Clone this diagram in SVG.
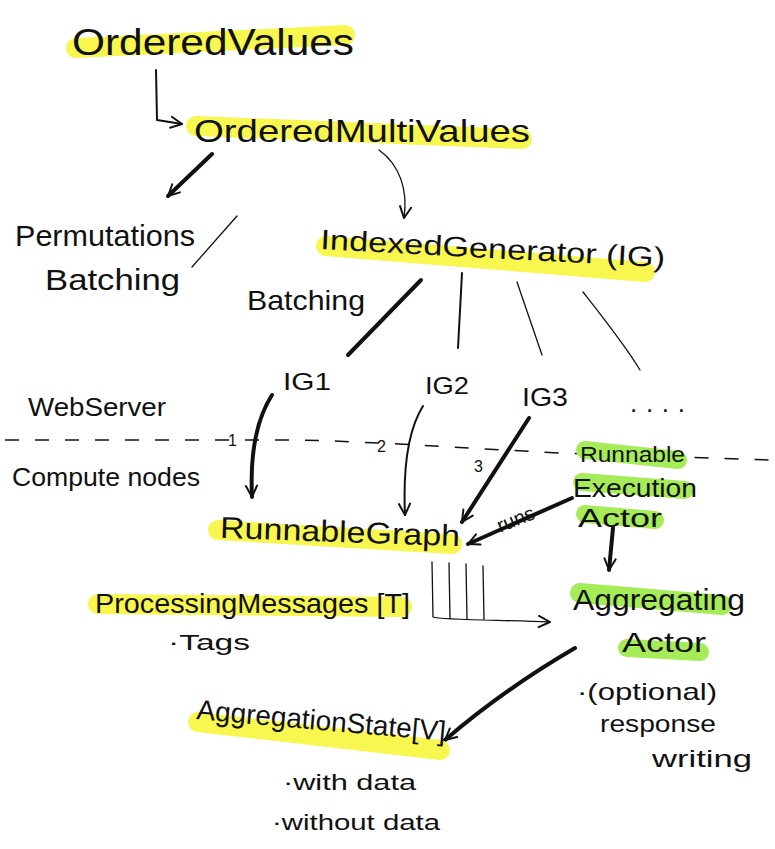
<svg xmlns="http://www.w3.org/2000/svg" width="775" height="849" viewBox="0 0 775 849">
<style>
text{font-family:"Liberation Sans","DejaVu Sans",sans-serif;fill:#111;}
.hy{stroke:#f7f750;stroke-linecap:round;fill:none;}
.hg{stroke:#a6ec58;stroke-linecap:round;fill:none;}
.c{stroke:#111;fill:none;stroke-linecap:round;stroke-linejoin:round;}
.thin{stroke-width:1.3;}
.mid{stroke-width:2;}
.thick{stroke-width:4;}
.dash{stroke:#111;stroke-width:1.5;fill:none;stroke-dasharray:14 16;}
</style>
<defs>
<marker id="ah" viewBox="0 0 10 10" refX="9" refY="5" markerWidth="9" markerHeight="9" markerUnits="userSpaceOnUse" orient="auto">
<path d="M1,1 L9,5 L1,9" fill="none" stroke="#111" stroke-width="1.4" stroke-linecap="round" stroke-linejoin="round"/>
</marker>
<marker id="ahb" viewBox="0 0 10 10" refX="9" refY="5" markerWidth="14" markerHeight="14" markerUnits="userSpaceOnUse" orient="auto">
<path d="M1,1 L9,5 L1,9" fill="none" stroke="#111" stroke-width="1.4" stroke-linecap="round" stroke-linejoin="round"/>
</marker>
</defs>
<rect width="775" height="849" fill="#fff"/>

<g id="connectors">
<path class="c mid" d="M156,70 L157,120 L182,124" marker-end="url(#ahb)"/>
<path class="c thick" d="M212,154 L168,196" marker-end="url(#ahb)"/>
<path class="c thin" d="M379,150 C400,165 408,190 404,218" marker-end="url(#ahb)"/>
<path class="c thin" d="M237,216 L192,267"/>
<path class="c thick" d="M421,280 L348,355"/>
<path class="c mid" d="M462,273 L458,348"/>
<path class="c thin" d="M517,282 L542,355"/>
<path class="c thin" d="M583,292 C605,320 625,345 640,370"/>
<path class="dash" d="M5,440 L300,440 C380,442 460,448 560,453 L770,460"/>
<path class="c thick" d="M272,395 C256,420 250,455 252,497" marker-end="url(#ahb)"/>
<path class="c mid" d="M423,406 C408,430 403,470 405,515" marker-end="url(#ahb)"/>
<path class="c thick" d="M529,418 L462,522" marker-end="url(#ahb)"/>
<path class="c thick" d="M572,498 L468,544" marker-end="url(#ahb)"/>
<path class="c thick" d="M613,528 L609,570" marker-end="url(#ahb)"/>
<path class="c thin" d="M432,562 L433,617 M449,563 L450,618 M466,564 L467,619 M483,566 L484,620 M433,617 C440,620 500,620 550,622" marker-end="url(#ahb)"/>
<path class="c thick" d="M575,648 C520,680 480,710 445,740" marker-end="url(#ahb)"/>
</g>

<g id="OrderedValues">
<path class="hy" stroke-width="20" d="M76,48 L345,35"/>
<text x="72" y="55" font-size="36" textLength="282" lengthAdjust="spacingAndGlyphs">OrderedValues</text>
</g>

<g id="OrderedMultiValues">
<path class="hy" stroke-width="20" d="M196,126 L522,139"/>
<text x="194" y="142" font-size="32" textLength="336" lengthAdjust="spacingAndGlyphs">OrderedMultiValues</text>
</g>

<g id="Permutations">
<text x="15" y="246" font-size="30" textLength="180" lengthAdjust="spacingAndGlyphs">Permutations</text>
<text x="45" y="290" font-size="30" textLength="135" lengthAdjust="spacingAndGlyphs">Batching</text>
</g>

<g id="IndexedGenerator">
<path class="hy" stroke-width="20" d="M326,246 L645,272"/>
<text x="320" y="258" font-size="28" textLength="345" lengthAdjust="spacingAndGlyphs" transform="rotate(3 490 255)">IndexedGenerator (IG)</text>
</g>

<g id="BatchingLabel">
<text x="247" y="310" font-size="28" textLength="118" lengthAdjust="spacingAndGlyphs">Batching</text>
</g>

<g id="IG1"><text x="283" y="390" font-size="24" textLength="48" lengthAdjust="spacingAndGlyphs">IG1</text></g>
<g id="IG2"><text x="425" y="394" font-size="24" textLength="44" lengthAdjust="spacingAndGlyphs">IG2</text></g>
<g id="IG3"><text x="522" y="406" font-size="26" textLength="46" lengthAdjust="spacingAndGlyphs">IG3</text></g>
<g id="IGmore"><text x="630" y="412" font-size="26" textLength="55" lengthAdjust="spacing">....</text></g>

<g id="WebServer"><text x="28" y="416" font-size="26" textLength="138" lengthAdjust="spacingAndGlyphs">WebServer</text></g>
<g id="ComputeNodes"><text x="12" y="486" font-size="26" textLength="188" lengthAdjust="spacingAndGlyphs">Compute nodes</text></g>

<g id="labels">
<text x="228" y="446" font-size="16">1</text>
<text x="377" y="452" font-size="16">2</text>
<text x="474" y="472" font-size="16">3</text>
<text x="495" y="524" font-size="20" transform="rotate(-22 520 515)">runs</text>
</g>

<g id="RunnableGraph">
<path class="hy" stroke-width="20" d="M218,530 L452,544"/>
<text x="220" y="542" font-size="30" textLength="240" lengthAdjust="spacingAndGlyphs" transform="rotate(2 340 535)">RunnableGraph</text>
</g>

<g id="RunnableExecutionActor">
<path class="hg" stroke-width="18" d="M585,450 L678,460"/>
<path class="hg" stroke-width="18" d="M582,482 L685,490"/>
<path class="hg" stroke-width="18" d="M585,514 L655,520"/>
<text x="580" y="462" font-size="22" textLength="105" lengthAdjust="spacingAndGlyphs">Runnable</text>
<text x="573" y="497" font-size="26" textLength="124" lengthAdjust="spacingAndGlyphs">Execution</text>
<text x="578" y="527" font-size="26" textLength="84" lengthAdjust="spacingAndGlyphs">Actor</text>
</g>

<g id="AggregatingActor">
<path class="hg" stroke-width="20" d="M580,593 L722,605"/>
<path class="hg" stroke-width="18" d="M627,648 L700,652"/>
<text x="573" y="610" font-size="30" textLength="172" lengthAdjust="spacingAndGlyphs">Aggregating</text>
<text x="622" y="652" font-size="28" textLength="84" lengthAdjust="spacingAndGlyphs">Actor</text>
<text x="577" y="700" font-size="24" textLength="140" lengthAdjust="spacingAndGlyphs">·(optional)</text>
<text x="600" y="732" font-size="24" textLength="116" lengthAdjust="spacingAndGlyphs">response</text>
<text x="652" y="767" font-size="24" textLength="100" lengthAdjust="spacingAndGlyphs">writing</text>
</g>

<g id="ProcessingMessages">
<path class="hy" stroke-width="20" d="M98,604 L402,607"/>
<text x="95" y="613" font-size="28" textLength="315" lengthAdjust="spacingAndGlyphs">ProcessingMessages [T]</text>
<text x="168" y="650" font-size="22" textLength="82" lengthAdjust="spacingAndGlyphs">·Tags</text>
</g>

<g id="AggregationState">
<path class="hy" stroke-width="20" d="M198,722 L440,750"/>
<text x="195" y="730" font-size="28" textLength="250" lengthAdjust="spacingAndGlyphs" transform="rotate(5 320 735)">AggregationState[V]</text>
<text x="283" y="790" font-size="22" textLength="133" lengthAdjust="spacingAndGlyphs">·with data</text>
<text x="272" y="830" font-size="22" textLength="168" lengthAdjust="spacingAndGlyphs">·without data</text>
</g>
</svg>
